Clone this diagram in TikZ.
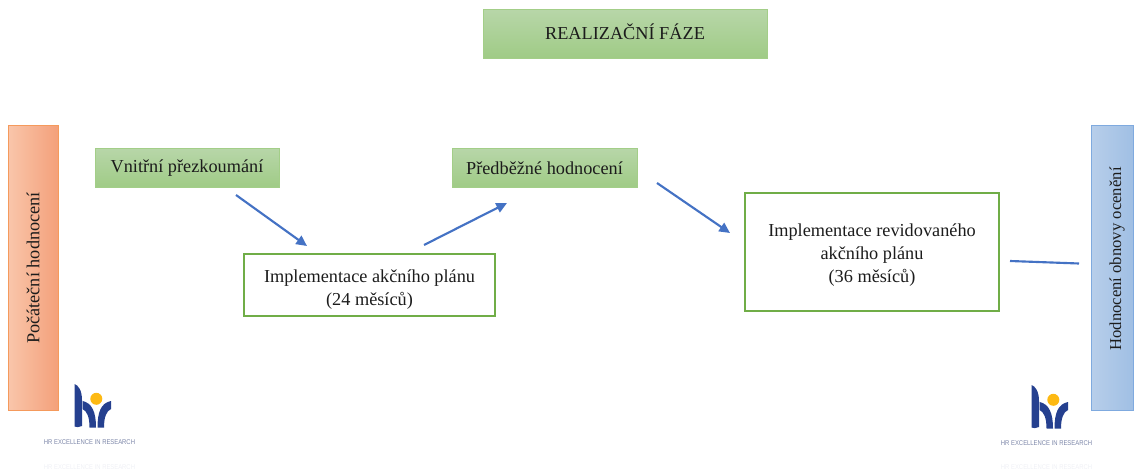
\documentclass[tikz,border=0pt]{standalone}
\usepackage{fontspec}
\setmainfont{Liberation Serif}
\newfontfamily\logofont{Liberation Sans}
\usepackage{xcolor}
\usetikzlibrary{arrows.meta}

\definecolor{boxgreen}{HTML}{70AD47}
\definecolor{greentop}{HTML}{B7D6A8}
\definecolor{greenbot}{HTML}{9FCB85}
\definecolor{greenline}{HTML}{A3CE88}
\definecolor{orangeleft}{HTML}{F9C6AB}
\definecolor{orangeright}{HTML}{F4A07A}
\definecolor{orangeline}{HTML}{F59A5C}
\definecolor{blueleft}{HTML}{B7CEEA}
\definecolor{blueright}{HTML}{A0BFE4}
\definecolor{blueline}{HTML}{7FAADF}
\definecolor{arrowblue}{HTML}{4472C4}
\definecolor{logoblue}{HTML}{25408F}
\definecolor{logoyellow}{HTML}{FDB913}
\definecolor{logotext}{HTML}{7C86A8}
\definecolor{inktext}{HTML}{1C1C1C}

\tikzset{
    phasebox/.style={draw=greenline, line width=0.75pt, top color=greentop, bottom color=greenbot, text=inktext, font=\fontsize{13.7}{16}\selectfont, inner sep=0pt, align=center},
    planbox/.style={draw=boxgreen, line width=1pt, fill=white, text=inktext, font=\fontsize{13.7}{17.25}\selectfont, inner sep=0pt, align=center},
    flow/.style={draw=arrowblue, line width=1.6pt, -{Triangle[length=8pt,width=7.5pt]}},
    logocaption/.style={font=\logofont\fontsize{5.2}{6}\selectfont, xscale=0.85, inner sep=0pt},
    pics/hrlogo/.style={code={
        \fill[logoblue] (0.5,14) .. controls (4,15) and (8,20) .. (8,30) -- (8,56) .. controls (5,57.5) and (2,57.5) .. (0.5,56.5) -- cycle;
        \fill[logoblue] (8.5,31) .. controls (18,33) and (22,42) .. (22,57.5) -- (15.5,57.5) .. controls (15.5,47) and (13,41) .. (8.5,39) -- cycle;
        \fill[logoblue] (37,31) .. controls (27,33) and (23.5,42) .. (23.5,57.5) -- (30,57.5) .. controls (30,47) and (32.5,41) .. (37,39) -- cycle;
        \fill[logoyellow] (22.3,28.8) circle (6);
    }}
}

\begin{document}
\begin{tikzpicture}[x=0.75pt,y=-0.75pt]
    \useasboundingbox (0,0) rectangle (1134,470);

    % Top
    \node[phasebox, minimum width=213pt, minimum height=36.75pt, text depth=4.5pt] (realizace) at (625,34.5) {REALIZAČNÍ FÁZE};

    % Side bars
    \node[draw=orangeline, line width=0.75pt, left color=orangeleft, right color=orangeright, minimum width=37.5pt, minimum height=213pt, inner sep=0pt] (pocatecni) at (33,268) {};
    \node[rotate=90, text=inktext, font=\fontsize{13.7}{16}\selectfont] (pocatecnitext) at (33,268) {Počáteční hodnocení};
    \node[draw=blueline, line width=0.75pt, left color=blueleft, right color=blueright, minimum width=31pt, minimum height=213pt, inner sep=0pt] (obnova) at (1112.5,268) {};
    \node[rotate=90, text=inktext, font=\fontsize{12.5}{15}\selectfont] (obnovatext) at (1117,259) {Hodnocení obnovy ocenění};

    % Steps
    \node[phasebox, minimum width=138pt, minimum height=29.25pt, text depth=4pt] (vnitrni) at (187,168.5) {Vnitřní přezkoumání};
    \node[phasebox, minimum width=138.75pt, minimum height=29.25pt] (predbezne) at (544.5,168.5) {Předběžné hodnocení};
    \node[planbox, minimum width=188.25pt, minimum height=46.5pt] (akcni) at (369.5,285) {\rule{0pt}{16pt}Implementace akčního plánu\\(24 měsíců)};
    \node[planbox, minimum width=190.5pt, minimum height=88.5pt] (revize) at (872,252) {\rule{0pt}{14pt}Implementace revidovaného\\akčního plánu\\(36 měsíců)};

    % Arrows
    \coordinate (a1) at (236,195);
    \coordinate (a2) at (307,246);
    \coordinate (b1) at (424,245);
    \coordinate (b2) at (507,203);
    \coordinate (c1) at (657,183);
    \coordinate (c2) at (730,233);
    \coordinate (d1) at (1010,261);
    \coordinate (d2) at (1079,263.5);
    \draw[flow] (a1) -- (a2);
    \draw[flow] (b1) -- (b2);
    \draw[flow] (c1) -- (c2);
    \draw[draw=arrowblue, line width=1.6pt] (d1) -- (d2);

    % Logos
    \pic at (74,370) {hrlogo};
    \node[logocaption, text=logotext] (logotextl) at (89.5,442.5) {HR EXCELLENCE IN RESEARCH};
    \node[logocaption, text=logotext!12] (logoghostl) at (89.5,467) {HR EXCELLENCE IN RESEARCH};
    \pic at (1031,371) {hrlogo};
    \node[logocaption, text=logotext] (logotextr) at (1046.5,443) {HR EXCELLENCE IN RESEARCH};
    \node[logocaption, text=logotext!12] (logoghostr) at (1046.5,467) {HR EXCELLENCE IN RESEARCH};
\end{tikzpicture}
\end{document}
